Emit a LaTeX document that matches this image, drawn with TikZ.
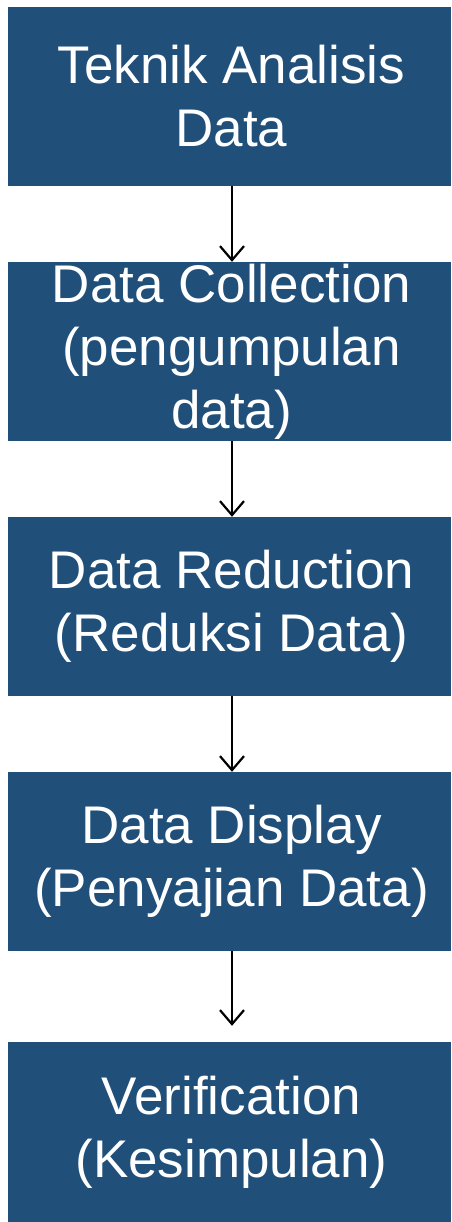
\documentclass[tikz,border=0pt]{standalone}
\usepackage{fontspec}
\setmainfont{Liberation Sans}
\usetikzlibrary{arrows.meta}
\definecolor{boxblue}{RGB}{32,79,121}
\begin{document}
\begin{tikzpicture}[x=1pt,y=-1pt,
  stepbox/.style={fill=boxblue,draw=none,text=white,minimum width=443pt,minimum height=179pt,
    inner sep=0pt,align=center,font=\fontsize{53}{63}\selectfont},
  conn/.style={draw=black,line width=2.2pt,-{Straight Barb[length=14pt,width=24pt,line width=2.2pt]}}]
\useasboundingbox (0,0) rectangle (451,1222);
\node[stepbox] (b1) at (229.5,96.5) {\hspace*{4pt}Teknik Analisis\\\hspace*{4pt}Data};
\node[stepbox] (b2) at (229.5,351.5) {\hspace*{4pt}Data Collection\\\hspace*{4pt}(pengumpulan\\\hspace*{4pt}data)};
\node[stepbox] (b3) at (229.5,606.5) {\hspace*{4pt}Data Reduction\\\hspace*{4pt}(Reduksi Data)};
\node[stepbox] (b4) at (229.5,861.5) {\hspace*{4pt}Data Display\\\hspace*{4pt}(Penyajian Data)};
\node[stepbox,minimum height=180pt] (b5) at (229.5,1132) {\hspace*{4pt}Verification\\\hspace*{4pt}(Kesimpulan)};
\draw[conn] ([xshift=2.5pt]b1.south) -- ([xshift=2.5pt]b2.north);
\draw[conn] ([xshift=2.5pt]b2.south) -- ([xshift=2.5pt]b3.north);
\draw[conn] ([xshift=2.5pt]b3.south) -- ([xshift=2.5pt]b4.north);
\draw[conn] ([xshift=2.5pt]b4.south) -- ([xshift=2.5pt,yshift=16pt]b5.north);
\end{tikzpicture}
\end{document}
